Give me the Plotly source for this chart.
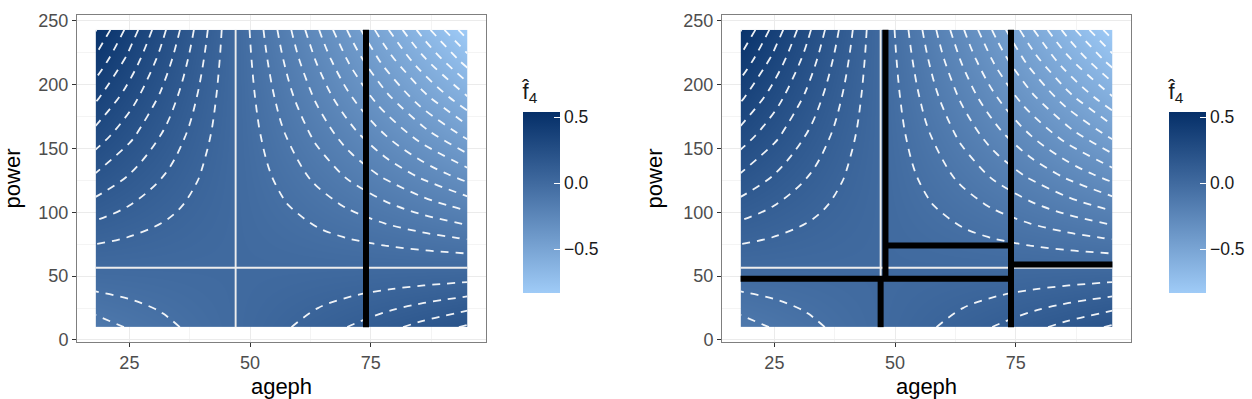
import plotly.graph_objects as go

# ---- data ----
ageph = [18, 25, 32, 39, 44, 50, 57, 64, 71, 78, 86, 95]
power = [10, 25, 40, 50, 63, 80, 105, 130, 160, 190, 220, 243]
# f4 estimate, rows = power, cols = ageph
f4 = [
    [-0.1254, -0.0951, -0.0649, -0.0346, -0.0130, 0.0130, 0.0432, 0.0735, 0.1038, 0.1341, 0.1687, 0.2076],
    [-0.0850, -0.0644, -0.0439, -0.0234, -0.0088, 0.0088, 0.0293, 0.0498, 0.0703, 0.0908, 0.1143, 0.1406],
    [-0.0445, -0.0338, -0.0230, -0.0123, -0.0046, 0.0046, 0.0153, 0.0261, 0.0368, 0.0476, 0.0598, 0.0737],
    [-0.0175, -0.0133, -0.0091, -0.0048, -0.0018, 0.0018, 0.0060, 0.0103, 0.0145, 0.0187, 0.0236, 0.0290],
    [0.0175, 0.0133, 0.0091, 0.0048, 0.0018, -0.0018, -0.0060, -0.0103, -0.0145, -0.0187, -0.0236, -0.0290],
    [0.0634, 0.0481, 0.0328, 0.0175, 0.0066, -0.0066, -0.0219, -0.0372, -0.0525, -0.0678, -0.0852, -0.1049],
    [0.1308, 0.0992, 0.0677, 0.0361, 0.0135, -0.0135, -0.0451, -0.0767, -0.1083, -0.1398, -0.1759, -0.2165],
    [0.1982, 0.1504, 0.1025, 0.0547, 0.0205, -0.0205, -0.0684, -0.1162, -0.1641, -0.2119, -0.2666, -0.3281],
    [0.2791, 0.2118, 0.1444, 0.0770, 0.0289, -0.0289, -0.0963, -0.1636, -0.2310, -0.2984, -0.3754, -0.4620],
    [0.3600, 0.2731, 0.1862, 0.0993, 0.0372, -0.0372, -0.1242, -0.2111, -0.2980, -0.3849, -0.4842, -0.5959],
    [0.4410, 0.3345, 0.2281, 0.1216, 0.0456, -0.0456, -0.1521, -0.2585, -0.3649, -0.4714, -0.5930, -0.7299],
    [0.5030, 0.3816, 0.2602, 0.1388, 0.0520, -0.0520, -0.1734, -0.2949, -0.4163, -0.5377, -0.6764, -0.8325],
]
f4_min, f4_max = -0.833, 0.542
zero_age = 47
zero_power = 56.5

x_ticks = [25, 50, 75]
y_ticks = [0, 50, 100, 150, 200, 250]
cbar_ticks = [-0.5, 0.0, 0.5]
cbar_labels = ["\u22120.5", "0.0", "0.5"]

# split lines (segments)
left_seg_x0 = [74]
left_seg_x1 = [74]
left_seg_y0 = [10]
left_seg_y1 = [243]
right_seg_x0 = [48, 47, 74, 18, 48, 74]
right_seg_x1 = [48, 47, 74, 74, 74, 95]
right_seg_y0 = [48, 10, 10, 48, 74, 59]
right_seg_y1 = [243, 48, 243, 48, 74, 59]

W, H = 1252, 399
FONT = "Liberation Sans, Arial, sans-serif"
colorscale = [[0.0, "#9FCBF7"], [0.6, "#416BA0"], [1.0, "#052F68"]]


def seg_path(x0, x1, y0, y1):
    xs, ys = [], []
    for a, b, c, d in zip(x0, x1, y0, y1):
        xs += [a, b, None]
        ys += [c, d, None]
    return xs, ys


fig = go.Figure()

panels = [
    dict(xa="x", ya="y", segs=(left_seg_x0, left_seg_x1, left_seg_y0, left_seg_y1), cbx=522.5),
    dict(xa="x2", ya="y2", segs=(right_seg_x0, right_seg_x1, right_seg_y0, right_seg_y1), cbx=1168.5),
]

for p in panels:
    fig.add_trace(go.Contour(
        x=ageph, y=power, z=f4, xaxis=p["xa"], yaxis=p["ya"],
        colorscale=colorscale, zmin=f4_min, zmax=f4_max, zauto=False,
        contours=dict(coloring="heatmap", showlines=False),
        line=dict(width=0),
        hoverinfo="skip",
        colorbar=dict(
            x=p["cbx"] / W, xanchor="left", xref="paper", xpad=0,
            y=1 - 186 / H, yanchor="middle",
            len=234, lenmode="pixels", thickness=37,
            outlinewidth=0, ticks="inside", tickcolor="white", ticklen=6,
            tickvals=cbar_ticks, ticktext=cbar_labels,
            tickfont=dict(family=FONT, size=17.5, color="#1a1a1a"),
            title=dict(text="f\u0302<sub>4</sub>", side="top",
                       font=dict(family=FONT, size=22, color="#1a1a1a")),
        ),
    ))
    for st, en in [(-0.8, -0.049), (0.05, 0.501)]:
        fig.add_trace(go.Contour(
            x=ageph, y=power, z=f4, xaxis=p["xa"], yaxis=p["ya"],
            showscale=False, autocontour=False,
            contours=dict(coloring="none", start=st, end=en, size=0.05, showlines=True),
            line=dict(color="rgba(255,255,255,0.92)", width=1.8, dash="8px,7px", smoothing=1.0),
            hoverinfo="skip",
        ))
    # zero contour (solid)
    fig.add_trace(go.Scatter(
        x=[zero_age, zero_age, None, ageph[0], ageph[-1]],
        y=[power[0], power[-1], None, zero_power, zero_power],
        xaxis=p["xa"], yaxis=p["ya"], mode="lines",
        line=dict(color="#EDEDED", width=1.9), hoverinfo="skip", showlegend=False,
    ))
    xs, ys = seg_path(*p["segs"])
    fig.add_trace(go.Scatter(
        x=xs, y=ys, xaxis=p["xa"], yaxis=p["ya"], mode="lines",
        line=dict(color="black", width=6), hoverinfo="skip", showlegend=False,
    ))

axis_common = dict(
    showline=True, mirror=True, linecolor="#7F7F7F", linewidth=1,
    ticks="outside", ticklen=4, tickcolor="#333333", tickwidth=1,
    showgrid=True, gridcolor="#EBEBEB", gridwidth=1, zeroline=False,
    automargin=False,
    tickfont=dict(family=FONT, size=18, color="#4D4D4D"),
)

xdoms = [(77 / W, 486 / W), (722 / W, 1131 / W)]
ydom = ((H - 342) / H, (H - 15) / H)
for i, (xd) in enumerate(xdoms):
    sx = "" if i == 0 else "2"
    fig.update_layout(**{
        f"xaxis{sx}": dict(
            axis_common, domain=list(xd), range=[14.15, 98.85],
            tickvals=x_ticks, anchor=f"y{sx}",
            minor=dict(tickvals=[37.5, 62.5, 87.5], showgrid=True, gridcolor="#F4F4F4", gridwidth=0.6, ticklen=0),
            title=dict(text="ageph", font=dict(family=FONT, size=22, color="black"), standoff=8),
        ),
        f"yaxis{sx}": dict(
            axis_common, domain=list(ydom), range=[-1.65, 254.65],
            tickvals=y_ticks, anchor=f"x{sx}",
            minor=dict(tickvals=[25, 75, 125, 175, 225], showgrid=True, gridcolor="#F4F4F4", gridwidth=0.6, ticklen=0),
            title=dict(text="power", font=dict(family=FONT, size=22, color="black"), standoff=14),
        ),
    })

fig.update_layout(
    width=W, height=H, margin=dict(l=0, r=0, t=0, b=0, autoexpand=False),
    paper_bgcolor="white", plot_bgcolor="white", showlegend=False,
)

fig.write_html("out.html")
